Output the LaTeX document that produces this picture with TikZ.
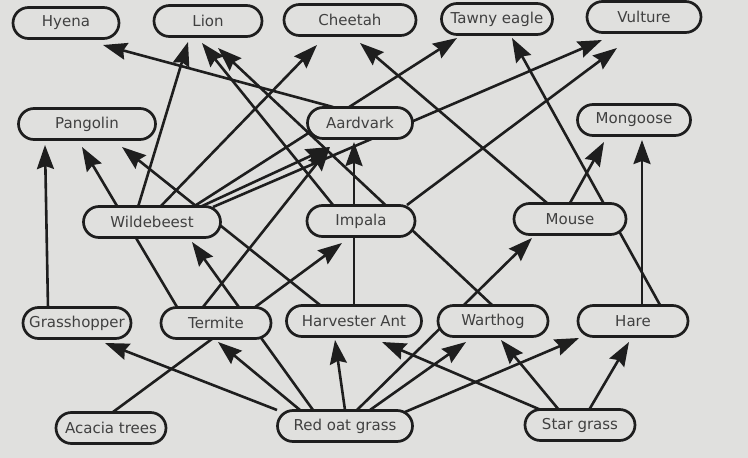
\documentclass[tikz,border=0pt]{standalone}
\usepackage{fontspec}
\setmainfont{DejaVu Sans}
\usepackage{tikz}
\usetikzlibrary{shapes.misc}
\usetikzlibrary{calc}
\usetikzlibrary{arrows.meta}
\pgfdeclarelayer{paperlayer}
\pgfdeclarelayer{linklayer}
\pgfsetlayers{paperlayer,linklayer,main}
\definecolor{paper}{RGB}{224,224,222}
\definecolor{ink}{RGB}{30,30,30}

\begin{document}
\begin{tikzpicture}[x = 1pt, y = -1pt,
		species/.style = {rounded rectangle, draw = ink, line width = 2.7pt, fill = paper,
			minimum height = 31pt, inner sep = 0pt, text = ink!85, font = \fontsize{15}{18}\selectfont},
		link/.style = {draw = ink, line width = 2.6pt, -{Stealth[length = 24pt, width = 17pt, inset = 3pt]}}]
	\useasboundingbox (0, 0) rectangle (748, 458);
	\begin{pgfonlayer}{paperlayer}
		\fill[paper] (0, 0) rectangle (748, 458);
	\end{pgfonlayer}

	% Nodes
	\node[species, minimum width = 106pt] (hyena) at (66, 23) {Hyena};
	\node[species, minimum width = 108pt] (lion) at (208, 21) {Lion};
	\node[species, minimum width = 132pt] (cheetah) at (350, 20) {Cheetah};
	\node[species, minimum width = 111pt] (eagle) at (497, 19) {Tawny eagle};
	\node[species, minimum width = 114pt] (vulture) at (644, 17) {Vulture};

	\node[species, minimum width = 137pt] (pangolin) at (87, 124) {Pangolin};
	\node[species, minimum width = 105pt] (aardvark) at (360, 123) {Aardvark};
	\node[species, minimum width = 113pt] (mongoose) at (634, 120) {Mongoose};

	\node[species, minimum width = 137pt] (wildebeest) at (152, 222) {Wildebeest};
	\node[species, minimum width = 108pt] (impala) at (361, 221) {Impala};
	\node[species, minimum width = 112pt] (mouse) at (570, 219) {Mouse};

	\node[species, minimum width = 108pt] (grasshopper) at (77, 323) {Grasshopper};
	\node[species, minimum width = 110pt] (termite) at (216, 323) {Termite};
	\node[species, minimum width = 135pt] (ant) at (354, 321) {Harvester Ant};
	\node[species, minimum width = 110pt] (warthog) at (493, 321) {Warthog};
	\node[species, minimum width = 110pt] (hare) at (633, 321) {Hare};

	\node[species, minimum width = 110pt] (acacia) at (111, 428) {Acacia trees};
	\node[species, minimum width = 135pt] (redoat) at (345, 426) {Red oat grass};
	\node[species, minimum width = 110pt] (star) at (580, 425) {Star grass};

	% Edges
	\begin{pgfonlayer}{linklayer}
		\draw[link] ($(grasshopper) + (-29, -15)$) -- ($(pangolin) + (-42, 21)$);
		\draw[link] ($(termite) + (-39, -16)$) -- ($(pangolin) + (-5, 23)$);
		\draw[link] ($(ant) + (-34, -16)$) -- ($(pangolin) + (35, 23)$);

		\draw[link] ($(wildebeest) + (-14, -15)$) -- ($(lion) + (-20, 21)$);
		\draw[link] ($(impala) + (-28, -16)$) -- ($(lion) + (-6, 22)$);
		\draw[link] ($(warthog) + (-1, -16)$) -- ($(lion) + (10, 27)$);
		\draw[link] ($(aardvark) + (-27, -16)$) -- ($(hyena) + (37, 22)$);
		\draw[link] ($(wildebeest) + (8, -15)$) -- ($(cheetah) + (-33, 25)$);
		\draw[link] ($(mouse) + (-23, -16)$) -- ($(cheetah) + (10, 23)$);
		\draw[link] ($(wildebeest) + (41, -15)$) -- ($(eagle) + (-40, 19)$);
		\draw[link] ($(hare) + (27, -16)$) -- ($(eagle) + (15, 19)$);
		\draw[link] ($(wildebeest) + (61, -15)$) -- ($(vulture) + (-42, 23)$);
		\draw[link] ($(impala) + (46, -16)$) -- ($(vulture) + (-27, 31)$);

		\draw[link] ($(mouse) + (0, -16)$) -- ($(mongoose) + (-30, 22)$);
		\draw[link] ($(hare) + (9, -16)$) -- ($(mongoose) + (8, 20)$);
		\draw[link] ($(ant) + (0, -16)$) -- ($(aardvark) + (-6, 19)$);
		\draw[link] ($(termite) + (-13, -16)$) -- ($(aardvark) + (-30, 24)$);
		\draw[link] ($(wildebeest) + (48, -15)$) -- ($(aardvark) + (-30, 24)$);

		\draw[link] ($(redoat) + (-32, -16)$) -- ($(wildebeest) + (40, 20)$);
		\draw[link] ($(acacia) + (2, -16)$) -- ($(impala) + (-19, 22)$);
		\draw[link] ($(redoat) + (12, -16)$) -- ($(mouse) + (-38, 19)$);

		\draw[link] ($(redoat) + (-68, -16)$) -- ($(grasshopper) + (28, 20)$);
		\draw[link] ($(redoat) + (-45, -16)$) -- ($(termite) + (2, 19)$);
		\draw[link] ($(redoat) + (0, -16)$) -- ($(ant) + (-19, 19)$);
		\draw[link] ($(redoat) + (25, -16)$) -- ($(warthog) + (-27, 21)$);
		\draw[link] ($(redoat) + (60, -14)$) -- ($(hare) + (-54, 17)$);
		\draw[link] ($(star) + (-39, -15)$) -- ($(ant) + (28, 21)$);
		\draw[link] ($(star) + (-21, -15)$) -- ($(warthog) + (8, 19)$);
		\draw[link] ($(star) + (9, -15)$) -- ($(hare) + (-4, 21)$);
	\end{pgfonlayer}
\end{tikzpicture}
\end{document}
